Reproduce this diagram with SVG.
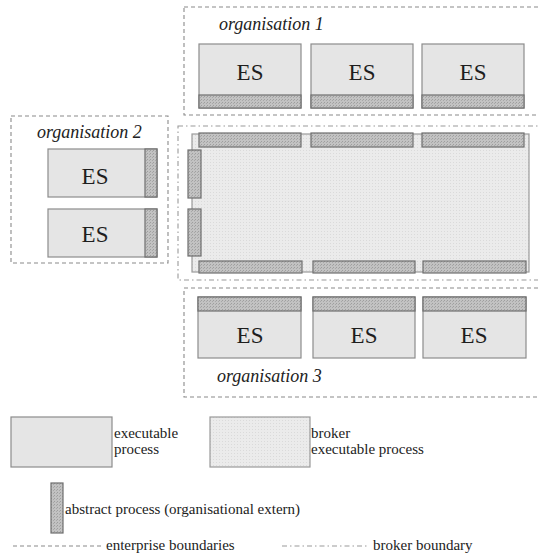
<svg xmlns="http://www.w3.org/2000/svg" width="538" height="555" viewBox="0 0 538 555" font-family="'Liberation Serif', 'DejaVu Serif', serif">
<defs>
<pattern id="hatch" width="3" height="3" patternUnits="userSpaceOnUse">
<rect width="3" height="3" fill="#c2c2c2"/>
<rect x="0" y="0" width="1" height="1" fill="#9e9e9e"/>
<rect x="2" y="1" width="1" height="1" fill="#a8a8a8"/>
</pattern>
<pattern id="stipple" width="3" height="3" patternUnits="userSpaceOnUse">
<rect width="3" height="3" fill="#ebebeb"/>
<rect x="0" y="0" width="1" height="1" fill="#dadada"/>
</pattern>
</defs>
<style>
.es{fill:#e5e5e5;stroke:#8c8c8c;stroke-width:1.2}
.abs{fill:url(#hatch);stroke:#6e6e6e;stroke-width:1.2}
.brk{fill:url(#stipple);stroke:#9a9a9a;stroke-width:1.2}
.ent{fill:none;stroke:#8a8a8a;stroke-width:1.1;stroke-dasharray:4 3}
.bb{fill:none;stroke:#9a9a9a;stroke-width:1.1;stroke-dasharray:5 3 1.5 3}
text{font-family:'Liberation Serif','DejaVu Serif',serif}
.lbl{font-style:italic;font-size:18px;fill:#222}
.est{font-size:23px;fill:#1e1e1e;text-anchor:middle}
.lg{font-size:15px;fill:#222}
</style>

<g id="org1">
<rect class="ent" x="184" y="7" width="360" height="108"/>
<text class="lbl" x="219" y="30">organisation 1</text>
<g id="org1-es1"><rect class="es" x="199" y="44" width="102" height="64"/><rect class="abs" x="199" y="95" width="102" height="13"/><text class="est" x="250" y="80">ES</text></g>
<g id="org1-es2"><rect class="es" x="311" y="44" width="102" height="64"/><rect class="abs" x="311" y="95" width="102" height="13"/><text class="est" x="362" y="80">ES</text></g>
<g id="org1-es3"><rect class="es" x="422" y="44" width="102" height="64"/><rect class="abs" x="422" y="95" width="102" height="13"/><text class="est" x="473" y="80">ES</text></g>
</g>

<g id="org2">
<rect class="ent" x="11" y="116" width="157" height="147"/>
<text class="lbl" x="37" y="138">organisation 2</text>
<g id="org2-es1"><rect class="es" x="48" y="149" width="109" height="48"/><rect class="abs" x="145" y="149" width="12" height="48"/><text class="est" x="95" y="184">ES</text></g>
<g id="org2-es2"><rect class="es" x="48" y="209" width="109" height="48"/><rect class="abs" x="145" y="209" width="12" height="48"/><text class="est" x="95" y="242">ES</text></g>
</g>

<g id="broker">
<rect class="bb" x="178" y="126" width="366" height="154"/>
<rect class="brk" x="192" y="134" width="337" height="138"/>
<rect class="abs" x="199" y="133" width="102" height="14"/>
<rect class="abs" x="311" y="133" width="102" height="14"/>
<rect class="abs" x="422" y="133" width="102" height="14"/>
<rect class="abs" x="188" y="150" width="13" height="48"/>
<rect class="abs" x="188" y="209" width="13" height="47"/>
<rect class="abs" x="199" y="261" width="103" height="12"/>
<rect class="abs" x="313" y="261" width="102" height="12"/>
<rect class="abs" x="423" y="261" width="103" height="12"/>
</g>

<g id="org3">
<rect class="ent" x="184" y="288" width="360" height="109"/>
<g id="org3-es1"><rect class="es" x="198" y="297" width="103" height="61"/><rect class="abs" x="198" y="297" width="103" height="14"/><text class="est" x="250" y="343">ES</text></g>
<g id="org3-es2"><rect class="es" x="313" y="297" width="102" height="61"/><rect class="abs" x="313" y="297" width="102" height="14"/><text class="est" x="364" y="343">ES</text></g>
<g id="org3-es3"><rect class="es" x="423" y="297" width="103" height="61"/><rect class="abs" x="423" y="297" width="103" height="14"/><text class="est" x="474" y="343">ES</text></g>
<text class="lbl" x="217" y="382">organisation 3</text>
</g>

<g id="legend">
<g id="lg-exec"><rect class="es" x="11" y="417" width="101" height="50"/><text class="lg" x="114" y="438">executable</text><text class="lg" x="114" y="454">process</text></g>
<g id="lg-broker"><rect class="brk" x="210" y="417" width="100" height="50"/><text class="lg" x="311" y="438">broker</text><text class="lg" x="311" y="454">executable process</text></g>
<g id="lg-abs"><rect class="abs" x="51" y="483" width="12" height="50"/><text class="lg" x="65" y="514">abstract process (organisational extern)</text></g>
<g id="lg-ent"><line class="ent" x1="13" y1="546" x2="104" y2="546"/><text class="lg" x="106" y="550">enterprise boundaries</text></g>
<g id="lg-bb"><line class="bb" x1="282" y1="546" x2="368" y2="546"/><text class="lg" x="373" y="550">broker boundary</text></g>
</g>
</svg>
